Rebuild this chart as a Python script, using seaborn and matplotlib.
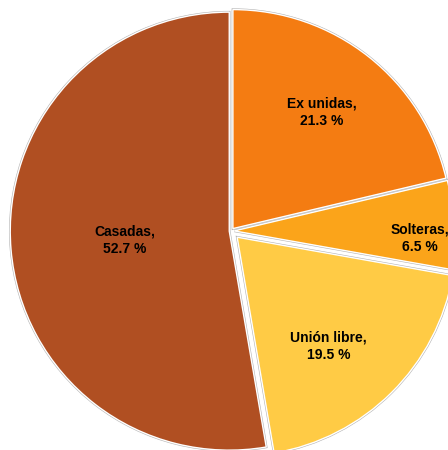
import matplotlib
matplotlib.use("Agg")
from matplotlib import pyplot as plt
import matplotlib.patheffects as pe
import numpy as np
import seaborn as sns

# Estado conyugal (porcentajes)
categorias = ["Ex unidas", "Solteras", "Unión libre", "Casadas"]
porcentajes = [21.3, 6.5, 19.5, 52.7]
colores = ["#F47C12", "#FBA41A", "#FFCB45", "#B04F22"]
separacion = [0.014, 0.015, 0.04, 0.008]
dist_etiqueta = [0.67, 0.85, 0.65, 0.48]
giro_etiqueta = [1, -4, -5, 0]

sns.set_theme(style="white")
plt.rcParams['font.family'] = ['Liberation Sans', 'DejaVu Sans']

fig = plt.figure(figsize=(4.48, 4.5), dpi=100)
ax = fig.add_axes([0, 0, 1, 1])

wedges, _ = ax.pie(porcentajes, colors=colores, startangle=90, counterclock=False,
                   explode=separacion, radius=1.0,
                   wedgeprops=dict(edgecolor="white", linewidth=1.0))

for w in wedges:
    w.set_path_effects([pe.Stroke(linewidth=1.8, foreground="#b4b4b4"), pe.Normal()])

# etiquetas dentro de cada rebanada
for w, cat, val, d, g in zip(wedges, categorias, porcentajes, dist_etiqueta, giro_etiqueta):
    ang = np.deg2rad((w.theta1 + w.theta2) / 2 + g)
    cx, cy = w.center
    ax.text(cx + d * np.cos(ang), cy + d * np.sin(ang), f"{cat},\n{val} %",
            ha="center", va="center", fontsize=10, fontweight="bold",
            color="black", linespacing=1.3)

r_px = 219
ax.set_xlim(-231 / r_px, (448 - 231) / r_px)
ax.set_ylim(-(450 - 231) / r_px, 231 / r_px)
ax.set_aspect("equal")
ax.axis("off")

fig.savefig("out.png", dpi=100)
